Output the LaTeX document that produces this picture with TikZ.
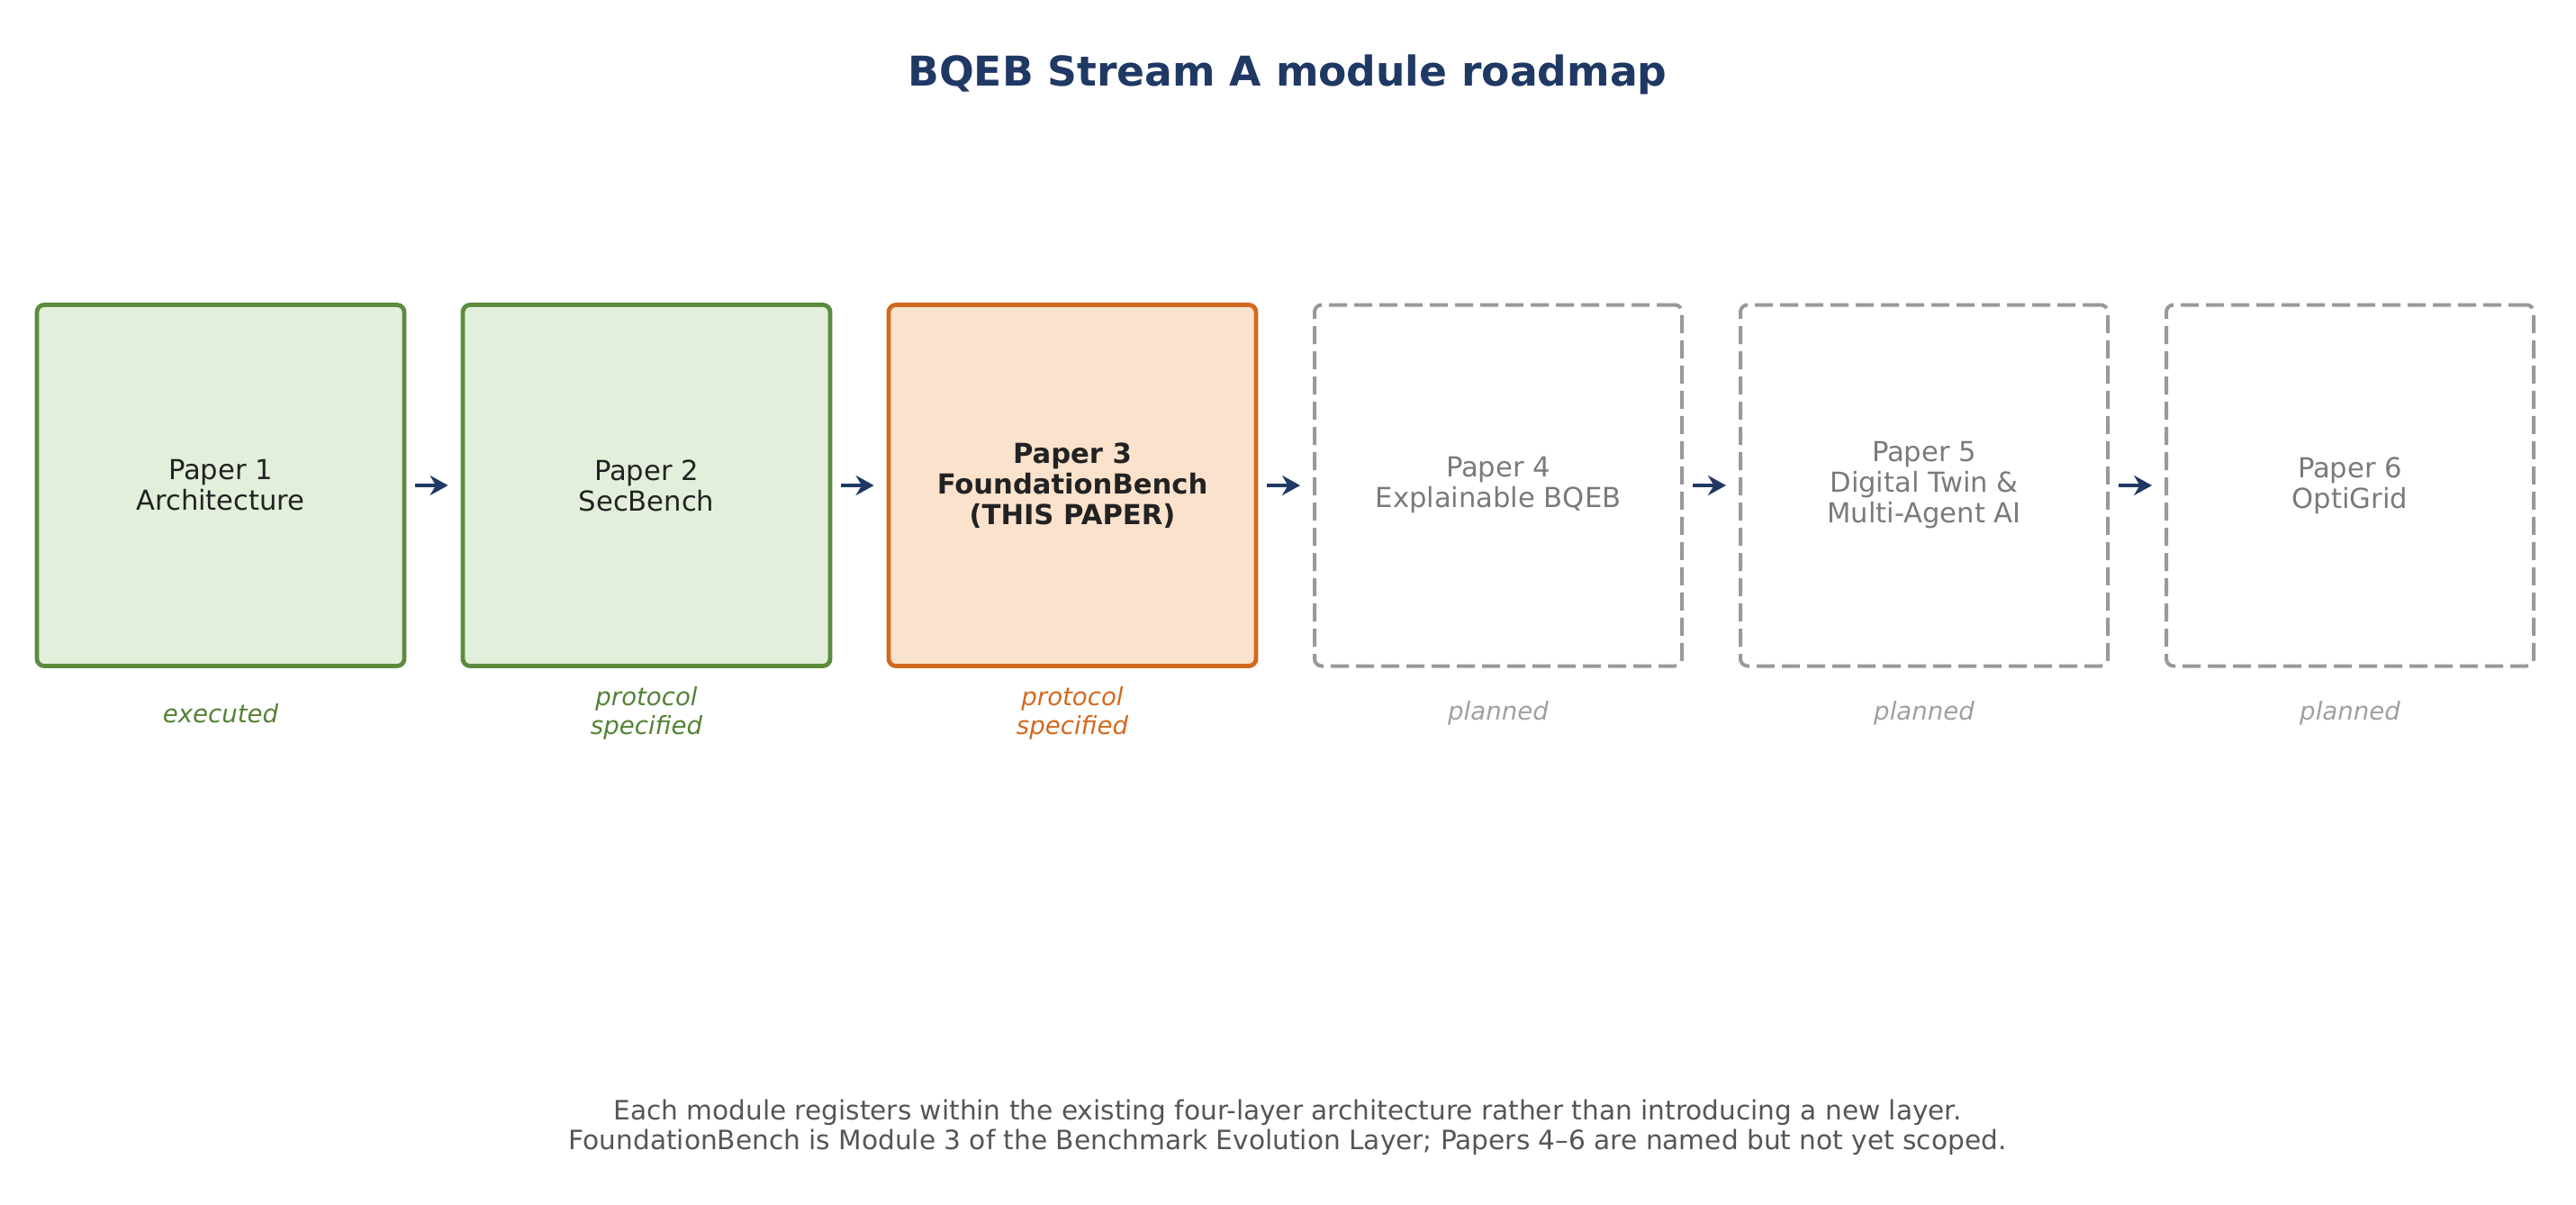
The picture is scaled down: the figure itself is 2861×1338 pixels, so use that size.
\documentclass[tikz,border=0pt]{standalone}
\usepackage{fontspec}
\setmainfont{DejaVu Sans}
\usetikzlibrary{arrows.meta}
\definecolor{navy}{HTML}{1F3864}
\definecolor{gborder}{HTML}{5B8C3E}
\definecolor{gfill}{HTML}{E2EFDA}
\definecolor{gtext}{HTML}{548235}
\definecolor{oborder}{HTML}{D2691E}
\definecolor{ofill}{HTML}{FBE2CC}
\definecolor{otext}{HTML}{D2691E}
\definecolor{pborder}{HTML}{999999}
\definecolor{ptext}{HTML}{7A7A7A}
\definecolor{plabel}{HTML}{A0A0A0}
\definecolor{foot}{HTML}{555555}
\definecolor{dtext}{HTML}{222222}
\tikzset{
  paperbox/.style={rectangle, rounded corners=2pt, minimum width=102pt, minimum height=100.25pt, inner sep=0pt, align=center, font=\fontsize{7.65}{8.5}\selectfont},
  donebox/.style={paperbox, draw=gborder, fill=gfill, line width=1.2pt, text=dtext},
  curbox/.style={paperbox, draw=oborder, fill=ofill, line width=1.2pt, text=dtext, font=\fontsize{7.65}{8.5}\selectfont\bfseries},
  planbox/.style={paperbox, draw=pborder, line width=1pt, dash pattern=on 5pt off 2pt, text=ptext},
  statuslbl/.style={align=center, font=\fontsize{6.9}{8}\selectfont\itshape, inner sep=0pt},
  arr/.style={draw=navy, line width=1pt, -{Stealth[length=5pt,width=5.5pt]}, shorten <=2.5pt, shorten >=3.5pt},
}
\begin{document}
\begin{tikzpicture}[x=0.25pt,y=-0.25pt]
\useasboundingbox (0,0) rectangle (2861,1338);
\node[font=\fontsize{11.4}{13}\selectfont\bfseries, text=navy] (title) at (1430,83) {BQEB Stream A module roadmap};

\node[donebox] (b1) at (245,539) {Paper 1\\Architecture};
\node[donebox] (b2) at (718,539) {Paper 2\\SecBench};
\node[curbox]  (b3) at (1191,539) {Paper 3\\FoundationBench\\(THIS PAPER)};
\node[planbox] (b4) at (1664,539) {Paper 4\\Explainable BQEB};
\node[planbox] (b5) at (2137,539) {Paper 5\\Digital Twin \&\\Multi-Agent AI};
\node[planbox] (b6) at (2610,539) {Paper 6\\OptiGrid};

\draw[arr] (b1.east) -- (b2.west);
\draw[arr] (b2.east) -- (b3.west);
\draw[arr] (b3.east) -- (b4.west);
\draw[arr] (b4.east) -- (b5.west);
\draw[arr] (b5.east) -- (b6.west);

\node[statuslbl, text=gtext] (s1) at (245,792) {executed};
\node[statuslbl, text=gtext] (s2) at (718,792) {protocol\\specified};
\node[statuslbl, text=otext] (s3) at (1191,792) {protocol\\specified};
\node[statuslbl, text=plabel] (s4) at (1664,792) {planned};
\node[statuslbl, text=plabel] (s5) at (2137,792) {planned};
\node[statuslbl, text=plabel] (s6) at (2610,792) {planned};

\node[align=center, text=foot, font=\fontsize{7.4}{8.2}\selectfont, inner sep=0pt] (foot) at (1430,1252) {Each module registers within the existing four-layer architecture rather than introducing a new layer.\\FoundationBench is Module 3 of the Benchmark Evolution Layer; Papers 4–6 are named but not yet scoped.};
\end{tikzpicture}
\end{document}
